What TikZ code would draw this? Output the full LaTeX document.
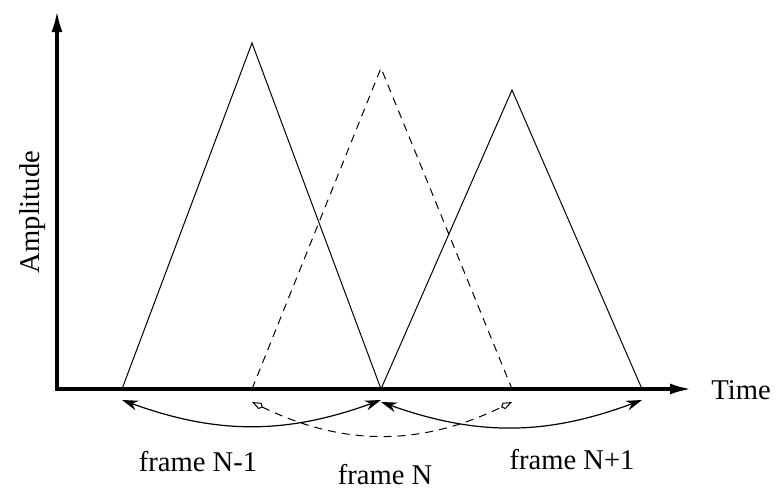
\documentclass[tikz,border=0pt]{standalone}
\usepackage{fontspec}
\setmainfont{Liberation Serif}
\usetikzlibrary{arrows.meta}
\begin{document}
\begin{tikzpicture}[x=0.5pt,y=0.5pt,
  axis/.style={line width=1.8pt,-{Latex[length=11pt,width=5.5pt]}},
  wave/.style={line width=0.5pt},
  dwave/.style={line width=0.5pt,dash pattern=on 4pt off 3pt},
  span/.style={line width=0.6pt,{Stealth[length=8pt,width=5pt]}-{Stealth[length=8pt,width=5pt]}},
  dspan/.style={line width=0.5pt,dash pattern=on 4pt off 3pt,{Kite[open,length=6pt,width=3.5pt]}-{Kite[open,length=6pt,width=3.5pt]}},
  lbl/.style={font=\fontsize{14.3pt}{16pt}\selectfont,inner sep=0pt}]
\useasboundingbox (0,0) rectangle (782,489);
% axes
\coordinate (O) at (57,100);
\coordinate (ytop) at (57,479);
\coordinate (xend) at (692,100);
\draw[axis] (O) -- (ytop);
\draw[axis] ([xshift=-0.9pt]O) -- (xend);
\node[lbl,rotate=90] (amp) at (33,277) {Amplitude};
\node[lbl] (time) at (741,99) {Time};
% triangles
\coordinate (A1) at (122,100); \coordinate (P1) at (252,446); \coordinate (B1) at (381,100);
\coordinate (A2) at (252,100); \coordinate (P2) at (381,421); \coordinate (B2) at (512,100);
\coordinate (A3) at (381,100); \coordinate (P3) at (512,399); \coordinate (B3) at (642,100);
\draw[wave] (A1) -- (P1) -- (B1);
\draw[dwave] (A2) -- (P2) -- (B2);
\draw[wave] (A3) -- (P3) -- (B3);
% frame spans
\coordinate (s1a) at (122,89); \coordinate (s1b) at (381,89);
\coordinate (s2a) at (381,87); \coordinate (s2b) at (642,89);
\coordinate (s3a) at (252,87); \coordinate (s3b) at (512,87);
\draw[span] (s1a) to[bend right=20] (s1b);
\draw[span] (s2a) to[bend right=20] (s2b);
\draw[dspan] (s3a) to[bend right=26] (s3b);
\node[lbl] (f1) at (198,27) {frame N-1};
\node[lbl] (f2) at (385,14) {frame N};
\node[lbl] (f3) at (572,29) {frame N+1};
\end{tikzpicture}
\end{document}
